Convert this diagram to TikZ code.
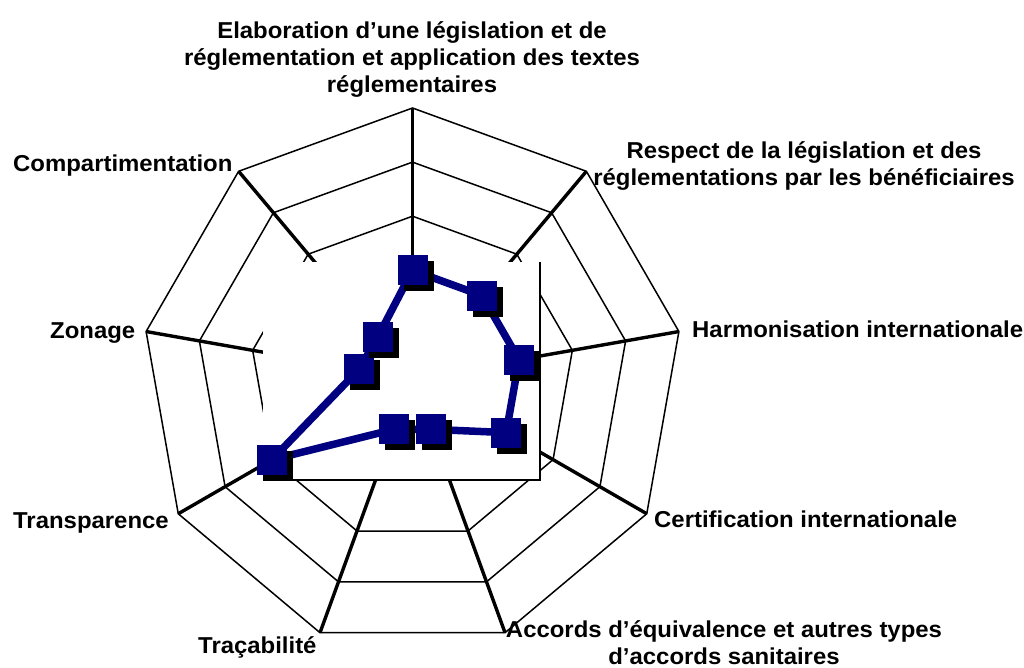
\documentclass[tikz,border=0pt]{standalone}
\usepackage{fontspec}
\setmainfont{Liberation Sans}[FakeStretch=1.04]
\definecolor{navy}{HTML}{000080}
\begin{document}
\begin{tikzpicture}[x=1pt,y=-1pt,
  ring/.style={draw=black, line width=1.5pt},
  spoke/.style={draw=black, line width=3.4pt},
  dataline/.style={draw=navy, line width=7.5pt, line join=round},
  marker/.style={rectangle, fill=navy, minimum size=30pt, inner sep=0pt},
  shadowmk/.style={rectangle, fill=black, minimum size=30pt, inner sep=0pt},
  lab/.style={font=\bfseries\fontsize{23}{27}\selectfont, inner sep=0pt}]
\def\CX{412.5}\def\CY{378.5}\def\Rad{270.5}
\useasboundingbox (0,0) rectangle (1024,668);
% grid rings
\foreach \k in {1,...,5} {
  \draw[ring] ({\CX+\k*0.2*\Rad*cos(90)},{\CY-\k*0.2*\Rad*sin(90)})
    \foreach \a in {50,10,...,-230} { -- ({\CX+\k*0.2*\Rad*cos(\a)},{\CY-\k*0.2*\Rad*sin(\a)}) } -- cycle;
}
% spokes
\coordinate (c) at (\CX,\CY);
\foreach \a [count=\i] in {90,50,...,-230} {
  \coordinate (v\i) at ({\CX+\Rad*cos(\a)},{\CY-\Rad*sin(\a)});
  \draw[spoke] (c) -- (v\i);
}
% plot area box
\coordinate (bxTL) at (263,262);
\coordinate (bxTR) at (540,262);
\coordinate (bxBR) at (540,480);
\coordinate (bxBL) at (263,480);
\fill[white] (bxTL) rectangle (bxBR);
\draw[line width=1.5pt] (bxTR) -- (bxBR) -- (bxBL);
% data
\foreach \a/\v [count=\i] in {90/0.4,50/0.4,10/0.4,-30/0.4,-70/0.2,-110/0.2,-150/0.6,-190/0.2,-230/0.2}
  \coordinate (d\i) at ({\CX+\v*\Rad*cos(\a)},{\CY-\v*\Rad*sin(\a)});
\draw[dataline] (d1) -- (d2) -- (d3) -- (d4) -- (d5) -- (d6) -- (d7) -- (d8) -- (d9) -- cycle;
\foreach \i in {1,...,9} {
  \node[shadowmk] (s\i) at ([shift={(6,6)}]d\i) {};
  \node[marker] (p\i) at (d\i) {};
}
% labels
\node[lab, anchor=north, align=center] (l1) at (412,21.5) {Elaboration d’une législation et de\\réglementation et application des textes\\réglementaires};
\node[lab, anchor=north, align=center] (l2) at (804,141) {Respect de la législation et des\\réglementations par les bénéficiaires};
\node[lab, anchor=base west] (l3) at (692,337) {Harmonisation internationale};
\node[lab, anchor=base west] (l4) at (654,527) {Certification internationale};
\node[lab, anchor=north, align=center] (l5) at (724,620) {Accords d’équivalence et autres types\\d’accords sanitaires};
\node[lab, anchor=base west] (l6) at (198,653) {Traçabilité};
\node[lab, anchor=base west] (l7) at (13,528) {Transparence};
\node[lab, anchor=base west] (l8) at (50,338) {Zonage};
\node[lab, anchor=base west] (l9) at (13,172) {Compartimentation};
\end{tikzpicture}
\end{document}
